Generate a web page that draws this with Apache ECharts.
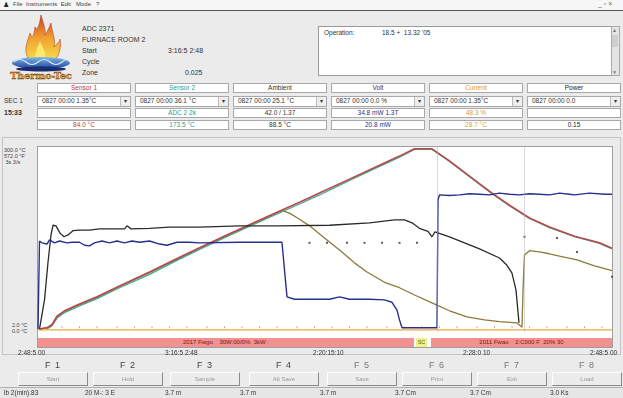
<!DOCTYPE html>
<html>
<head>
<meta charset="utf-8">
<script src="https://cdn.jsdelivr.net/npm/echarts@6/dist/echarts.min.js"></script>
<style>
body { margin: 0; width: 623px; height: 398px; background: #ebebeb; position: relative; overflow: hidden;
  font-family: "Liberation Sans", "DejaVu Sans", sans-serif; font-size: 7px; color: #333; }
.a { position: absolute; white-space: nowrap; }
.box { position: absolute; background: #fff; border: 1px solid #a8a8a8; box-sizing: border-box; text-align: center; line-height: 8px; font-size: 6.5px; }
.dd { text-align: left; padding-left: 4px; }
.arr { position: absolute; right: 0; top: 0; width: 9px; height: 100%; border-left: 1px solid #bbb; background: #eee; font-size: 6px; text-align: center; }
.fk { position: absolute; top: 360px; width: 60px; margin-left: -30px; text-align: center; font-size: 9px; color: #444; letter-spacing: 1px; }
.btn { position: absolute; top: 372px; width: 70px; margin-left: -35px; height: 14px; box-sizing: border-box;
  border: 1px solid; border-color: #fff #8a8a8a #8a8a8a #fff; background: #ececec; text-align: center; font-size: 6px; line-height: 12px; color: #999; }
.st { position: absolute; top: 389px; font-size: 6.5px; color: #333; }
</style>
</head>
<body>
<!-- title / menu bar -->
<div class="a" style="left:0;top:0;width:623px;height:10px;background:#f6f6f6;border-bottom:1px solid #555"></div>
<div class="a" style="left:3px;top:1px;font-size:7px;font-weight:bold;color:#222">&#9823;</div>
<div class="a" style="left:13px;top:1px;font-size:6px;color:#444">File &nbsp;Instruments &nbsp;Edit &nbsp; Mode &nbsp; ?</div>
<div class="a" style="left:598px;top:0px;font-size:7px;color:#666">_ &#9643; &#215;</div>

<!-- logo -->
<svg class="a" style="left:8px;top:13px" width="66" height="68" viewBox="0 0 66 68">
  <defs>
    <linearGradient id="fl" x1="0" y1="1" x2="0" y2="0">
      <stop offset="0" stop-color="#f6e04a"/>
      <stop offset="0.5" stop-color="#f0a030"/>
      <stop offset="1" stop-color="#c8402a"/>
    </linearGradient>
    <linearGradient id="wv" x1="0" y1="0" x2="0" y2="1">
      <stop offset="0" stop-color="#7fb8e8"/>
      <stop offset="1" stop-color="#1c3f9a"/>
    </linearGradient>
  </defs>
  <path d="M22 48 C14 38 20 28 22 20 C24 26 26 24 27 14 C30 20 32 8 33 2 C35 10 38 16 37 22 C40 18 42 12 43 10 C44 20 48 26 46 34 C50 30 52 28 52 26 C54 36 50 44 46 48 Z" fill="url(#fl)" stroke="#b04020" stroke-width="0.6"/>
  <path d="M28 48 C26 40 30 34 32 28 C34 34 38 38 38 48 Z" fill="#fae870"/>
  <ellipse cx="33" cy="50" rx="29" ry="6" fill="url(#wv)"/>
  <path d="M6 49 Q12 44 18 49 T30 49 T42 49 T54 49 T62 49" fill="none" stroke="#d8ecfa" stroke-width="1.2"/>
  <ellipse cx="33" cy="56" rx="25" ry="2.5" fill="#1a2c70"/>
  <text x="33" y="66" text-anchor="middle" font-family="DejaVu Serif, serif" font-size="9.5" font-weight="bold" fill="#e8a020" stroke="#6a3a10" stroke-width="0.4">Thermo-Tec</text>
</svg>

<!-- info labels -->
<div class="a" style="left:82px;top:25px">ADC 2371</div>
<div class="a" style="left:82px;top:36px">FURNACE ROOM 2</div>
<div class="a" style="left:82px;top:47px">Start</div>
<div class="a" style="left:168px;top:47px">3:16:5 2:48</div>
<div class="a" style="left:82px;top:58px">Cycle</div>
<div class="a" style="left:82px;top:69px">Zone</div>
<div class="a" style="left:185px;top:69px">0.025</div>

<!-- message box -->
<div class="a" style="left:318px;top:26px;width:294px;height:50px;background:#fff;border:1px solid #9a9a9a;box-sizing:border-box"></div>
<div class="a" style="left:324px;top:29px;font-size:6.5px">Operation:</div>
<div class="a" style="left:382px;top:29px;font-size:6.5px">18.5 + &nbsp;13.32 '05</div>
<div class="a" style="left:611px;top:26px;width:9px;height:50px;background:#e4e4e4;border:1px solid #aaa;box-sizing:border-box"></div>
<div class="a" style="left:612px;top:27px;font-size:5px;color:#777">&#9650;</div>
<div class="a" style="left:612px;top:69px;font-size:5px;color:#777">&#9660;</div>
<div class="a" style="left:612px;top:35px;width:6px;height:12px;background:#cfcfcf"></div>

<!-- channel table -->
<div class="a" style="left:4px;top:97px;font-size:6.5px">SEC 1</div>
<div class="a" style="left:4px;top:109px;font-size:7px;font-weight:bold">15:33</div>
<div id="table"></div>

<!-- plot panel -->
<div class="a" style="left:2px;top:137px;width:619px;height:218px;border:1px solid #c4c4c4;box-sizing:border-box"></div>
<div class="a" style="left:37px;top:146px;width:576px;height:202px;background:#fff;border:1px solid #9e9e9e;box-sizing:border-box"></div>
<div class="a" style="left:4px;top:147px;font-size:5.5px;line-height:6px;color:#444">300.0 °C<br>572.0 °F<br>&nbsp;3s 3/s</div>
<div class="a" style="left:12px;top:322px;font-size:5.5px;line-height:6px;color:#444">2.0 °C<br>0.0 °C</div>
<div id="chart" class="a" style="left:0;top:140px;width:623px;height:200px"></div>

<!-- event bar -->
<div class="a" style="left:38px;top:338px;width:376px;height:9px;background:#f39190;color:#7a1010;font-size:6px;line-height:9px;text-align:center">2017 Fwgu &nbsp;&nbsp; 30W:00/0% &nbsp;3kW :</div>
<div class="a" style="left:416px;top:338px;width:11px;height:9px;background:#f2f08c;color:#3a6a10;font-size:5.5px;line-height:9px;text-align:center">SC</div>
<div class="a" style="left:431px;top:338px;width:181px;height:9px;background:#f39190;color:#7a1010;font-size:6px;line-height:9px;text-align:center">2011 Fwau &nbsp;&nbsp; 2:C000 F &nbsp;20% 30</div>

<!-- time labels -->
<div class="a" style="left:18px;top:349px;font-size:6.5px">2:48:5 00</div>
<div class="a" style="left:165px;top:349px;font-size:6.5px">3:16:5 2:48</div>
<div class="a" style="left:313px;top:349px;font-size:6.5px">2:20:15:10</div>
<div class="a" style="left:463px;top:349px;font-size:6.5px">2:28:0 10</div>
<div class="a" style="left:590px;top:349px;font-size:6.5px">2:48:5 00</div>

<div id="keys"></div>
<div class="a" style="left:0;top:387px;width:623px;height:11px;background:#e6e6e6;border-top:1px solid #b0b0b0"></div>
<div id="status"></div>

<script>
// channel table
const chNames = ['Sensor 1', 'Sensor 2', 'Ambient', 'Volt', 'Current', 'Power']
const chColors = ['#c23a3a', '#2a9a9a', '#333333', '#2a2f8a', '#e0a020', '#222222']
const chSelect = ['0827 00:00 1.35°C', '0827 00:00 36.1 °C', '0827 00:00 25.1 °C', '0827 00:00 0.0 %', '0827 00:00 1.35°C', '0827 00:00 0.0']
const chRow3 = ['', 'ADC 2 2k', '42.0 / 1.37', '34.8 mW 1.3T', '48.3 %', '']
const chValues = ['84.0 °C', '173.5 °C', '88.5 °C', '20.8 mW', '28.7 °C', '0.15']

// chart data: [minutes, value]
const sensor1 = [[1,0],[4,2],[6,7],[8,21],[11,30],[17,41],[24,53],[33,71],[45,94],[55,114],[65,134],[77,157],[92,185],[105,209],[113,224],[125,247],[137,270],[145,285],[151,297],[158,297],[165,277],[173,252],[182,224],[189,204],[197,183],[205,168],[215,153],[225,142],[230,133]]
const sensor2 = [[4,0],[6,5],[8,18],[11,27],[17,38],[24,50],[33,68],[45,90],[55,111],[65,131],[77,154],[92,182],[105,206],[113,221],[125,245],[137,268],[145,283],[151,296],[158,296],[165,276],[173,251],[182,223],[189,203],[197,182],[205,167],[215,152],[225,141],[230,132]]
const ambient = [[1,0],[3,48],[4.4,110],[5.6,155],[6.4,171],[7.6,170],[9.2,158],[10.8,152],[12.4,155],[14.4,162],[17,163],[21,163],[25,165],[35,165],[36,170],[37.6,165],[45,166],[53,168],[65,168],[81,170],[97,170],[117,171],[133,175],[143,180],[147,180],[150,175],[153,166],[156.4,161],[158,152],[159.2,160],[165,152],[171,142],[177,132],[185,117],[188,105],[190,92],[191.6,64],[192.8,10]]
const volt = [[0.4,0],[1,145],[2,142],[4,140],[5,147],[7,142],[9,145],[12,142],[14,143],[17,143],[19,138],[21,137],[23,142],[26,145],[29,142],[32,145],[35,142],[38,145],[41,143],[45,145],[49,140],[52,138],[56,143],[61,143],[65,142],[81,143],[98,143],[99,97],[100,53],[103,49],[109,49],[117,49],[121,53],[125,49],[133,49],[139,48],[142,44],[144,31],[145,15],[146,2],[160,2],[160.4,213],[161,221],[165,220],[169,221],[173,223],[177,222],[181,221],[185,224],[189,222],[193,221],[197,223],[201,222],[205,221],[209,224],[213,222],[215,221],[221,224],[227,222],[230,222]]
const current = [[1,0],[4,2],[6,7],[8,20],[11,29],[17,40],[24,52],[33,70],[45,93],[55,113],[65,133],[77,156],[92,184],[98,195],[101,191],[105,181],[109,170],[115,150],[121,130],[127,109],[132,94],[139,77],[145,68],[151,56],[158,43],[165,30],[172,20],[179,15],[185,12],[192,10],[194,3],[194.4,64],[195,122],[197,129],[201,127],[205,124],[209,120],[216,114],[223,104],[230,96]]
const baseline = [[0,-1.5],[230,-1.5]]
const setpointDots = [[109,142],[116,142],[124,142],[131,142],[138,142],[145,142],[152,142],[195,152],[208,150],[216,127],[230,86]]
const tickDots = [[10,3],[17,3],[24,3],[32,3],[39,3],[46,3],[53,3],[60,3],[68,3],[75,3],[82,3],[89,3],[96,3],[104,3],[111,3],[118,3],[125,3],[132,3],[140,3],[147,3],[154,3],[161,3],[168,3],[176,3],[183,3],[190,3],[197,3],[204,3],[212,3],[219,3],[226,3]]
const cursors = [160, 195]

const keyCenters = [53, 128, 205, 284, 362, 437, 512, 587]
const keyLabels = ['Start', 'Hold', 'Sample', 'Alt Save', 'Save', 'Print', 'Exit', 'Load']
const statusX = [4, 85, 165, 240, 320, 395, 470, 550]
const statusText = ['lb 2(min).83', '20 M-: 3 E', '3.7 m', '3.7 m', '3.7 m', '3.7 Cm', '3.7 Cm', '3.0 Ks']

let html = ''
chNames.forEach((n, i) => {
  const x = 37 + 98 * i
  html += `<div class="box" style="left:${x}px;top:83px;width:94px;height:10px;color:${chColors[i]}">${n}</div>`
  html += `<div class="box dd" style="left:${x}px;top:96px;width:94px;height:11px">${chSelect[i]}<div class="arr">&#9662;</div></div>`
  html += `<div class="box" style="left:${x}px;top:108px;width:94px;height:10px;color:${chColors[i]}">${chRow3[i]}</div>`
  html += `<div class="box" style="left:${x}px;top:120px;width:94px;height:10px;color:${chColors[i]}">${chValues[i]}</div>`
})
document.getElementById('table').innerHTML = html

html = ''
keyCenters.forEach((c, i) => {
  const col = i < 4 ? '#444' : '#777'
  html += `<div class="fk" style="left:${c}px;color:${col}">F ${i + 1}</div>`
  html += `<div class="btn" style="left:${c}px">${keyLabels[i]}</div>`
})
document.getElementById('keys').innerHTML = html

html = ''
statusX.forEach((x, i) => {
  html += `<div class="st" style="left:${x}px">${statusText[i]}</div>`
})
document.getElementById('status').innerHTML = html

const lineSeries = (name, data, color, width) => ({
  name, type: 'line', data, symbol: 'none', silent: true,
  lineStyle: { color, width }
})

const chart = echarts.init(document.getElementById('chart'))
chart.setOption({
  animation: false,
  grid: { left: 37, top: 7, width: 575, height: 184.4 },
  xAxis: { type: 'value', min: 0, max: 230, show: false },
  yAxis: { type: 'value', min: -4, max: 300, show: false },
  series: [
    {
      ...lineSeries('Current base', baseline, '#f0a830', 1.3),
      markLine: {
        silent: true, symbol: 'none', label: { show: false },
        lineStyle: { color: '#b0b0b0', type: 'dotted', width: 1 },
        data: cursors.map(v => ({ xAxis: v }))
      }
    },
    { type: 'scatter', data: tickDots, symbol: 'rect', symbolSize: [1, 2], itemStyle: { color: '#999' }, silent: true },
    lineSeries('Current', current, '#8c7a3c', 1.3),
    lineSeries('Sensor 2', sensor2, '#3aa88c', 1.2),
    lineSeries('Sensor 1', sensor1, '#b84a4a', 1.6),
    lineSeries('Ambient', ambient, '#2a2a2a', 1.3),
    lineSeries('Volt', volt, '#27308c', 1.4),
    { type: 'scatter', data: setpointDots, symbol: 'rect', symbolSize: 2, itemStyle: { color: '#333' }, silent: true }
  ]
})
</script>
</body>
</html>
